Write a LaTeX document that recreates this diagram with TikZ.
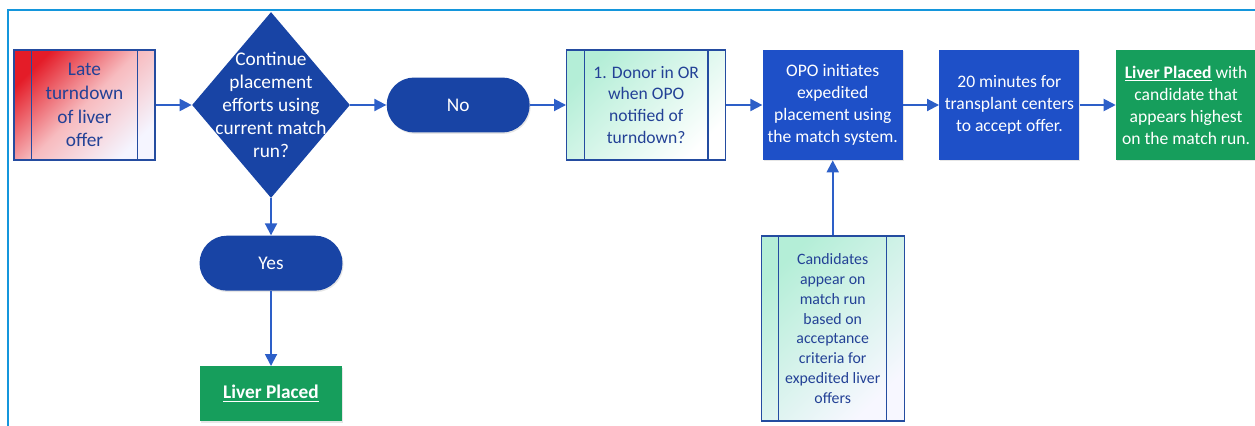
\documentclass[tikz,border=0pt]{standalone}
\usepackage{fontspec}
\setmainfont{Carlito}
\usetikzlibrary{positioning,shapes.geometric,arrows.meta,shadows}

\definecolor{framecol}{RGB}{20,150,220}
\definecolor{darkblue}{RGB}{24,68,165}
\definecolor{midblue}{RGB}{30,80,200}
\definecolor{placegreen}{RGB}{22,158,92}
\definecolor{edgeblue}{RGB}{45,95,200}
\definecolor{textblue}{RGB}{35,65,150}
\definecolor{latered}{RGB}{228,28,40}
\definecolor{mint}{RGB}{180,238,215}

\begin{document}
\begin{tikzpicture}[
                    x=0.02cm, y=-0.02cm,
                    node distance=0.72cm,
                    every node/.style={align=center, inner sep=2pt},
                    flow/.style={draw=edgeblue, line width=1.1pt,
                        -{Triangle[length=0.24cm, width=0.24cm]}},
                    subproc/.style={
                        draw=edgeblue!80!black,
                        line width=0.8pt,
                        text=textblue,
                        minimum width=2.82cm,
                        minimum height=2.2cm,
                        path picture={
                            \draw[edgeblue!80!black, line width=0.8pt]
                                ([xshift=0.35cm]path picture bounding box.north west) --
                                ([xshift=0.35cm]path picture bounding box.south west)
                                ([xshift=-0.35cm]path picture bounding box.north east) --
                                ([xshift=-0.35cm]path picture bounding box.south east);
                        }
                    },
                    stepbox/.style={
                        fill=midblue,
                        text=white,
                        minimum width=2.8cm,
                        minimum height=2.2cm,
                        font=\fontsize{10}{12.5}\selectfont,
                        drop shadow={opacity=0.2, shadow xshift=0.6pt, shadow yshift=-0.8pt}
                    },
                    placedbox/.style={
                        stepbox,
                        fill=placegreen
                    },
                    decision/.style={
                        diamond,
                        fill=darkblue,
                        inner sep=0pt,
                        minimum width=3.16cm,
                        minimum height=3.72cm
                    },
                    terminal/.style={
                        fill=darkblue,
                        text=white,
                        rounded corners=0.55cm,
                        minimum width=2.86cm,
                        minimum height=1.1cm,
                        font=\fontsize{11}{13}\selectfont,
                        drop shadow={opacity=0.2, shadow xshift=0.6pt, shadow yshift=-0.8pt}
                    }
                ]

                    \useasboundingbox (0,0) rectangle (1255,426);

                    % Frame
                    \draw[framecol, line width=1.2pt] (8,426) -- (8,10) -- (1255,10);

                    \node[subproc, top color=latered, bottom color=blue!4, middle color=latered!30!white,
                        shading angle=45, font=\fontsize{11}{13.6}\selectfont]
                        (late) at (84.5,105) {Late\\turndown\\of liver\\offer};
                    \node[decision, right=of late,
                        label={[text=white, font=\fontsize{11}{13}\selectfont]center:{Continue\\placement\\efforts using\\current match\\run?}}]
                        (cont) {};
                    \node[terminal] (no) [right=of cont] {No};
                    \node[subproc, minimum width=3.18cm, top color=mint, bottom color=white, shading angle=45,
                        font=\fontsize{10}{12.5}\selectfont]
                        (donor) [right=of no] {1. Donor in OR\\when OPO\\notified of\\turndown?};
                    \node[stepbox] (opo) [right=of donor] {OPO initiates\\expedited\\placement using\\the match system.};
                    \node[stepbox] (twenty) [right=of opo] {20 minutes for\\transplant centers\\to accept offer.};
                    \node[placedbox] (placedrun) [right=of twenty]
                        {\underline{\textbf{Liver Placed}} with\\candidate that\\appears highest\\on the match run.};
                    \node[terminal] (yes) [below=0.74cm of cont] {Yes};
                    \node[placedbox, minimum width=2.84cm, minimum height=1.1cm, font=\fontsize{11}{13}\selectfont]
                        (placed) [below=1.5cm of yes] {\underline{\textbf{Liver Placed}}};
                    \node[subproc, minimum width=2.86cm, minimum height=3.7cm, top color=mint, bottom color=blue!3,
                        shading angle=45, font=\fontsize{9}{11.3}\selectfont]
                        (cand) [below=1.5cm of opo] {Candidates\\appear on\\match run\\based on\\acceptance\\criteria for\\expedited liver\\offers};

                    % Edges
                    \draw[flow] (late) -- (cont);
                    \draw[flow] (cont) -- (no);
                    \draw[flow] (no) -- (donor);
                    \draw[flow] (donor) -- (opo);
                    \draw[flow] (opo) -- (twenty);
                    \draw[flow] (twenty) -- (placedrun);
                    \draw[flow] (cont) -- (yes);
                    \draw[flow] (yes) -- (placed);
                    \draw[flow] (cand) -- (opo);
                \end{tikzpicture}
\end{document}
